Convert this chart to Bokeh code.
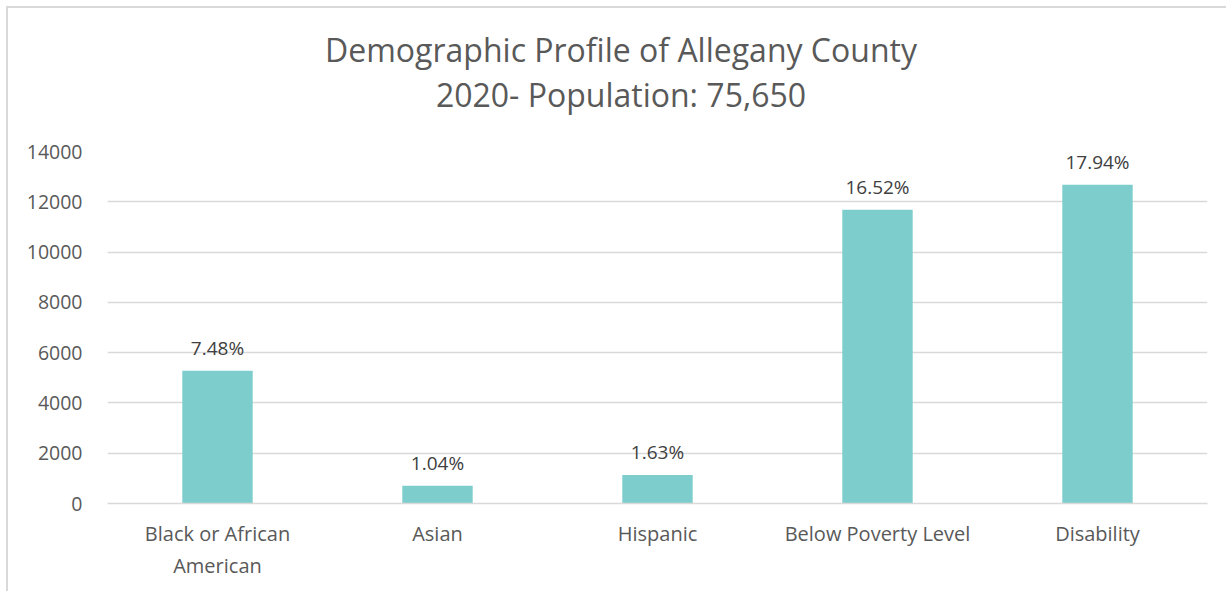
from bokeh.plotting import figure
from bokeh.models import ColumnDataSource, LabelSet, Div
from bokeh.layouts import column
from bokeh.core.properties import value
from bokeh.embed import file_html
from bokeh.resources import INLINE

categories = ["Black or African\nAmerican", "Asian", "Hispanic", "Below Poverty Level", "Disability"]
counts = [5280, 705, 1130, 11680, 12680]
pct_labels = ["7.48%", "1.04%", "1.63%", "16.52%", "17.94%"]
y_ticks = [0, 2000, 4000, 6000, 8000, 10000, 12000, 14000]
title_lines = ["Demographic Profile of Allegany County", "2020- Population: 75,650"]

FONT = "Open Sans"
TXT = "#595959"

source = ColumnDataSource(dict(cat=categories, val=counts, lbl=pct_labels))

title_div = Div(
    text=("<div style=\"display:block;box-sizing:content-box;width:1210px;"
          "padding-top:19px;padding-left:8px;text-align:center;"
          "font-family:'Open Sans';font-size:32px;line-height:45px;color:#595959;"
          "white-space:nowrap\">" + "<br>".join(title_lines) + "</div>"),
    width=1218, height=123, margin=0)

p = figure(x_range=categories, y_range=(0, 14000), width=1218, height=460,
           output_backend="svg", toolbar_location=None, margin=0,
           min_border_left=99, min_border_right=19, min_border_top=20, min_border_bottom=88)
p.title = None

p.vbar(x="cat", top="val", width=0.32, source=source, fill_color="#7ECDCD", line_color=None)

labels = LabelSet(x="cat", y="val", text="lbl", source=source, text_align="center",
                  text_baseline="alphabetic", y_offset=16, text_font=value(FONT),
                  text_font_size=value("19px"), text_color=value("#404040"))
p.add_layout(labels)

p.outline_line_color = None
p.xgrid.grid_line_color = None
p.ygrid.grid_line_color = "#d9d9d9"
p.ygrid.grid_line_width = 1.5
p.yaxis.ticker = y_ticks
p.yaxis.axis_line_color = None
p.yaxis.major_tick_line_color = None
p.yaxis.major_tick_out = 0
p.yaxis.major_tick_in = 0
p.yaxis.minor_tick_line_color = None
p.yaxis.major_label_text_font = FONT
p.yaxis.major_label_text_font_size = "19.5px"
p.yaxis.major_label_text_color = TXT
p.yaxis.major_label_standoff = 25
p.xaxis.axis_line_color = "#d9d9d9"
p.xaxis.axis_line_width = 1.5
p.xaxis.major_tick_line_color = None
p.xaxis.major_tick_out = 0
p.xaxis.major_tick_in = 0
p.xaxis.minor_tick_line_color = None
p.xaxis.major_label_text_font = FONT
p.xaxis.major_label_text_font_size = "20px"
p.xaxis.major_label_text_color = TXT
p.xaxis.major_label_standoff = 16

layout = column(title_div, p, spacing=0,
                styles={"margin-left": "6px", "margin-top": "6px",
                        "border-left": "2px solid #d9d9d9", "border-top": "2px solid #d9d9d9"})

open("out.html", "w").write(file_html(layout, INLINE))
